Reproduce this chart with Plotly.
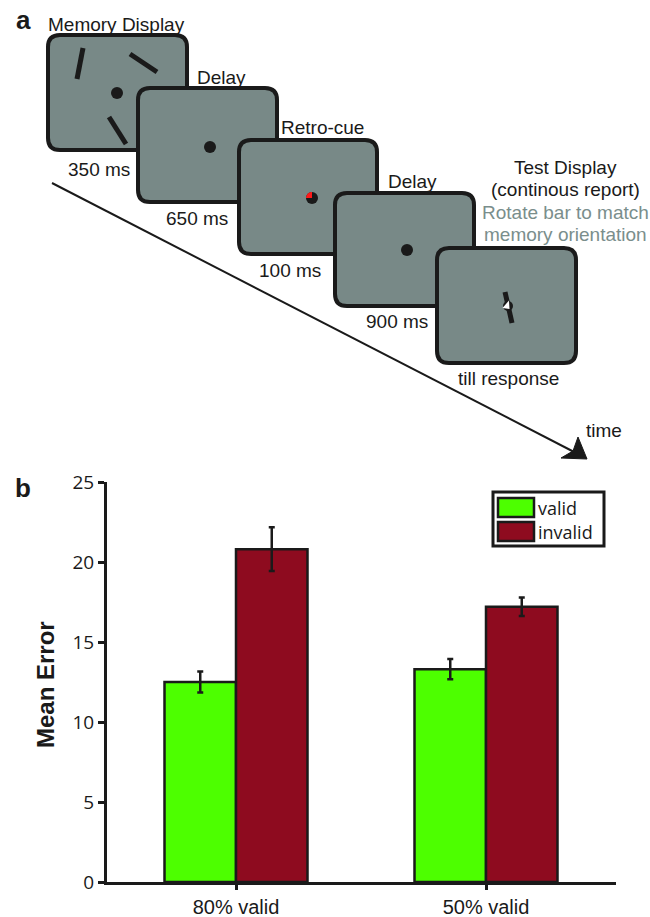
import plotly.graph_objects as go

# ---------------- data (panel b) ----------------
conditions = ["80% valid", "50% valid"]
series_names = ["valid", "invalid"]
valid_mean = [12.5, 13.3]
valid_err = [0.65, 0.63]
invalid_mean = [20.8, 17.2]
invalid_err = [1.37, 0.58]
y_ticks = [0, 5, 10, 15, 20, 25]
series_colors = ["#4dff00", "#8e0b1f"]

# ---------------- panel a labels ----------------
stage_titles = ["Memory Display", "Delay", "Retro-cue", "Delay"]
stage_durations = ["350 ms", "650 ms", "100 ms", "900 ms", "till response"]
test_lines = ["Test Display", "(continous report)"]
test_hint = ["Rotate bar to match", "memory orientation"]

W, H = 650, 917
INK = "#1a1a1a"
PANEL = "#788987"
HINT = "#7a8e8c"

fig = go.Figure()

means = [valid_mean, invalid_mean]
errs = [valid_err, invalid_err]
for name, m, e, c in zip(series_names, means, errs, series_colors):
    fig.add_trace(go.Bar(
        x=conditions, y=m, name=name,
        marker=dict(color=c, line=dict(color=INK, width=2.5)),
        error_y=dict(type="data", array=e, color=INK, thickness=2.5, width=3),
        showlegend=False,
    ))

# pixel helpers for the bar axes
ax_left, ax_right = 107, 616
ax_top, ax_bottom = 482, 882
c0, spacing = 236, 250

fig.update_layout(
    template="none",
    width=W, height=H,
    margin=dict(l=0, r=0, t=0, b=0, pad=0),
    paper_bgcolor="white", plot_bgcolor="rgba(0,0,0,0)",
    barmode="group", bargap=0.428, bargroupgap=0,
    xaxis=dict(
        domain=[ax_left / W, ax_right / W], automargin=False,
        type="category",
        range=[(ax_left - c0) / spacing, (ax_right - c0) / spacing],
        showline=True, linewidth=3, linecolor=INK,
        ticks="outside", ticklen=5, tickwidth=2.5, tickcolor=INK,
        tickfont=dict(family="Liberation Sans, Arial, sans-serif", size=20, color=INK),
        showgrid=False, zeroline=False, fixedrange=True,
    ),
    yaxis=dict(
        domain=[(H - ax_bottom) / H, (H - ax_top) / H], automargin=False,
        range=[0, 25], tickvals=y_ticks,
        showline=True, linewidth=3, linecolor=INK,
        ticks="outside", ticklen=6, tickwidth=2.5, tickcolor=INK,
        tickfont=dict(family="Open Sans, sans-serif", size=19, color=INK),
        showgrid=False, zeroline=False, fixedrange=True,
    ),
    # overlay axes in pixel units for the schematic (panel a) and decorations
    xaxis2=dict(domain=[0, 1], range=[0, W], visible=False, anchor="y2",
                fixedrange=True, automargin=False),
    yaxis2=dict(domain=[0, 1], range=[H, 0], visible=False, anchor="x2",
                fixedrange=True, automargin=False),
)
fig.add_trace(go.Scatter(x=[0], y=[0], xaxis="x2", yaxis="y2", mode="markers",
                         marker=dict(opacity=0), showlegend=False, hoverinfo="skip"))

shapes = []
annots = []


def rrect(x0, y0, x1, y1, r):
    return (f"M{x0+r},{y0} L{x1-r},{y0} Q{x1},{y0} {x1},{y0+r} L{x1},{y1-r} "
            f"Q{x1},{y1} {x1-r},{y1} L{x0+r},{y1} Q{x0},{y1} {x0},{y1-r} "
            f"L{x0},{y0+r} Q{x0},{y0} {x0+r},{y0} Z")


def txt(x, y, s, size=19, color=INK, bold=False, anchor="center", angle=0):
    annots.append(dict(
        x=x, y=y, xref="x2", yref="y2", text=(f"<b>{s}</b>" if bold else s),
        showarrow=False, xanchor=anchor, yanchor="middle", textangle=angle,
        font=dict(family="Liberation Sans, Arial, sans-serif", size=size, color=color),
    ))


def circle(cx, cy, r, color=INK):
    shapes.append(dict(type="circle", xref="x2", yref="y2", x0=cx - r, y0=cy - r,
                       x1=cx + r, y1=cy + r, fillcolor=color, line=dict(width=0)))


def seg(x0, y0, x1, y1, w=5, color=INK):
    shapes.append(dict(type="line", xref="x2", yref="y2", x0=x0, y0=y0, x1=x1, y1=y1,
                       line=dict(color=color, width=w)))


panels = [(48, 35, 187, 150), (138, 88, 277, 202), (239, 140, 377, 254),
          (335, 193, 474, 306), (437, 248, 576, 363)]

# time arrow (drawn first, beneath panels)
seg(52, 183, 578, 454, w=2)
shapes.append(dict(type="path", xref="x2", yref="y2",
                   path="M587,459 L561,458 L573,451 L578,437 Z",
                   fillcolor=INK, line=dict(color=INK, width=1)))

for i, (x0, y0, x1, y1) in enumerate(panels):
    shapes.append(dict(type="path", xref="x2", yref="y2", path=rrect(x0, y0, x1, y1, 12),
                       fillcolor=PANEL, line=dict(color=INK, width=4)))
    if i == 0:
        seg(83, 48, 77, 79)
        seg(130, 54, 157, 72)
        seg(109, 117, 126, 144)
        circle(117, 93, 6)
    elif i == 1:
        circle(210, 147, 6)
    elif i == 2:
        cx, cy, r = 312, 198, 6
        circle(cx, cy, r)
        k = 0.552 * r
        shapes.append(dict(type="path", xref="x2", yref="y2",
                           path=f"M{cx},{cy} L{cx-r},{cy} C{cx-r},{cy-k} {cx-k},{cy-r} {cx},{cy-r} Z",
                           fillcolor="#ff1a1a", line=dict(width=0)))
    elif i == 3:
        circle(407, 250, 6)
    elif i == 4:
        seg(505, 292, 512, 323, w=5)
        circle(508, 306, 5)
        shapes.append(dict(type="path", xref="x2", yref="y2",
                           path="M502.5,308 L509,300.5 L509.5,309 Z",
                           fillcolor="white", line=dict(width=0)))

# stage labels
title_pos = [(116, 24), (221, 77), (322, 127), (412, 181)]
for s, (x, y) in zip(stage_titles, title_pos):
    txt(x, y, s)
dur_pos = [(99, 169), (197, 218), (290, 270), (397, 321), (508, 378)]
for s, (x, y) in zip(stage_durations, dur_pos):
    txt(x, y, s)
for s, y in zip(test_lines, [167, 189]):
    txt(565, y, s)
for s, y in zip(test_hint, [212, 234]):
    txt(565, y, s, color=HINT)
txt(604, 430, "time")

# panel letters
txt(23, 20, "a", size=26, bold=True)
txt(23, 488, "b", size=26, bold=True)

# y-axis title
txt(45, 685, "Mean Error", size=24, bold=True, angle=-90)

# legend (built from the series)
lx0, ly0, lx1, ly1 = 493, 492, 604, 546
shapes.append(dict(type="rect", xref="x2", yref="y2", x0=lx0, y0=ly0, x1=lx1, y1=ly1,
                   fillcolor="white", line=dict(color=INK, width=3)))
for j, (name, c) in enumerate(zip(series_names, series_colors)):
    yy = 498 + j * 24
    shapes.append(dict(type="rect", xref="x2", yref="y2", x0=498, y0=yy, x1=534, y1=yy + 19,
                       fillcolor=c, line=dict(color=INK, width=2.5)))
    annots.append(dict(x=536, y=yy + 9.5, xref="x2", yref="y2", text=name, showarrow=False,
                       xanchor="left", yanchor="middle",
                       font=dict(family="Open Sans, sans-serif", size=18, color=INK)))

fig.update_layout(shapes=shapes, annotations=annots)
fig.write_html("out.html", config={"displayModeBar": False},
               post_script="document.body.style.margin='0';document.body.style.overflow='hidden';")
